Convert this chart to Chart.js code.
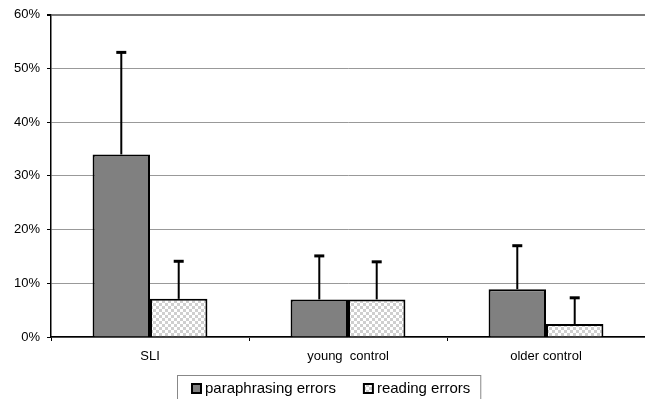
<!DOCTYPE html>
<html>
<head>
<meta charset="utf-8">
<script src="https://cdn.jsdelivr.net/npm/chart.js@4.4.1/dist/chart.umd.min.js"></script>
<style>
  html, body { margin: 0; padding: 0; background: #fff; overflow: hidden; }
  #wrap { position: relative; width: 645px; height: 399px; }
</style>
</head>
<body>
<div id="wrap"><canvas id="c"></canvas></div>
<script>
const categories = ["SLI", "young  control", "older control"];
const seriesNames = ["paraphrasing errors", "reading errors"];
const paraphrasing = [34, 7, 8.9];
const reading = [7.1, 7, 2.4];
const paraphrasingSD = [19, 8.1, 8.1];
const readingSD = [7, 7, 4.9];
const yTicks = [0, 10, 20, 30, 40, 50, 60];

const FAMILY = "'Liberation Sans', Arial, sans-serif";
const FONT = { family: FAMILY, size: 13 };

function checker() {
  const p = document.createElement('canvas');
  p.width = 6; p.height = 6;
  const g = p.getContext('2d');
  g.fillStyle = '#ffffff'; g.fillRect(0, 0, 6, 6);
  g.fillStyle = '#cfcfcf';
  g.fillRect(0, 0, 3, 3); g.fillRect(3, 3, 3, 3);
  return g.createPattern(p, 'repeat');
}
const checkPattern = checker();

const errorBars = {
  id: 'errorBars',
  afterDatasetsDraw(chart) {
    const ctx = chart.ctx;
    const ys = chart.scales.y;
    const sds = [paraphrasingSD, readingSD];
    ctx.save();
    ctx.strokeStyle = '#000';
    chart.data.datasets.forEach((ds, i) => {
      const meta = chart.getDatasetMeta(i);
      meta.data.forEach((el, j) => {
        const top = ys.getPixelForValue(ds.data[j] + sds[i][j]);
        ctx.lineWidth = 2;
        ctx.beginPath();
        ctx.moveTo(el.x, el.y);
        ctx.lineTo(el.x, top);
        ctx.stroke();
        ctx.lineWidth = 3;
        ctx.beginPath();
        ctx.moveTo(el.x - 5, top);
        ctx.lineTo(el.x + 5, top);
        ctx.stroke();
      });
    });
    ctx.restore();
  }
};

// Boxed legend drawn from the dataset labels/colours
const boxedLegend = {
  id: 'boxedLegend',
  afterDraw(chart) {
    const ctx = chart.ctx;
    const dss = chart.data.datasets;
    ctx.save();
    ctx.font = '15px ' + FAMILY;
    const sq = 9, gapText = 4, gapItem = 28;
    const widths = dss.map(d => ctx.measureText(d.label).width);
    let total = 0;
    widths.forEach((w, i) => { total += sq + gapText + w + (i < widths.length - 1 ? gapItem : 0); });
    const cx = 331, cy = 389;
    let x = Math.round(cx - total / 2);
    // frame
    ctx.strokeStyle = '#888';
    ctx.lineWidth = 1;
    ctx.strokeRect(x - 15 + 0.5, 375.5, total + 25, 40);
    dss.forEach((d, i) => {
      ctx.fillStyle = d.backgroundColor;
      ctx.fillRect(x, cy - 5, sq, sq);
      ctx.strokeStyle = '#000';
      ctx.lineWidth = 2;
      ctx.strokeRect(x, cy - 5, sq, sq);
      ctx.fillStyle = '#000';
      ctx.textBaseline = 'middle';
      ctx.textAlign = 'left';
      ctx.fillText(d.label, x + sq + gapText, cy);
      x += sq + gapText + widths[i] + gapItem;
    });
    ctx.restore();
  }
};

new Chart(document.getElementById('c'), {
  type: 'bar',
  data: {
    labels: categories,
    datasets: [
      { label: seriesNames[0], data: paraphrasing, backgroundColor: '#808080', borderColor: '#000', borderWidth: 2, borderSkipped: 'bottom' },
      { label: seriesNames[1], data: reading, backgroundColor: checkPattern, borderColor: '#000', borderWidth: 2, borderSkipped: 'bottom' }
    ]
  },
  options: {
    responsive: true,
    maintainAspectRatio: false,
    animation: false,
    layout: { padding: { top: 10, right: 0, left: 0, bottom: 32 } },
    datasets: { bar: { categoryPercentage: 0.58, barPercentage: 1 } },
    plugins: {
      legend: { display: false },
      tooltip: { enabled: false }
    },
    scales: {
      x: {
        afterFit(s) { s.height = 30; },
        grid: { offset: true, drawOnChartArea: false, tickLength: 4, color: '#000', tickColor: '#000' },
        border: { color: '#000', width: 1.5 },
        ticks: { color: '#000', font: FONT, padding: 8, autoSkip: false, maxRotation: 0, minRotation: 0 }
      },
      y: {
        min: 0, max: 60,
        afterFit(s) { s.width = 51; },
        afterBuildTicks(s) { s.ticks = yTicks.map(v => ({ value: v })); },
        grid: {
          tickLength: 4,
          tickColor: '#000',
          color: c => c.tick && c.tick.value === 60 ? '#7a7a7a' : '#999',
          lineWidth: c => c.tick && c.tick.value === 60 ? 2 : 1
        },
        border: { color: '#000', width: 1.5 },
        ticks: { color: '#000', font: FONT, padding: 7, callback: v => v + '%' }
      }
    }
  },
  plugins: [errorBars, boxedLegend]
});
</script>
</body>
</html>
